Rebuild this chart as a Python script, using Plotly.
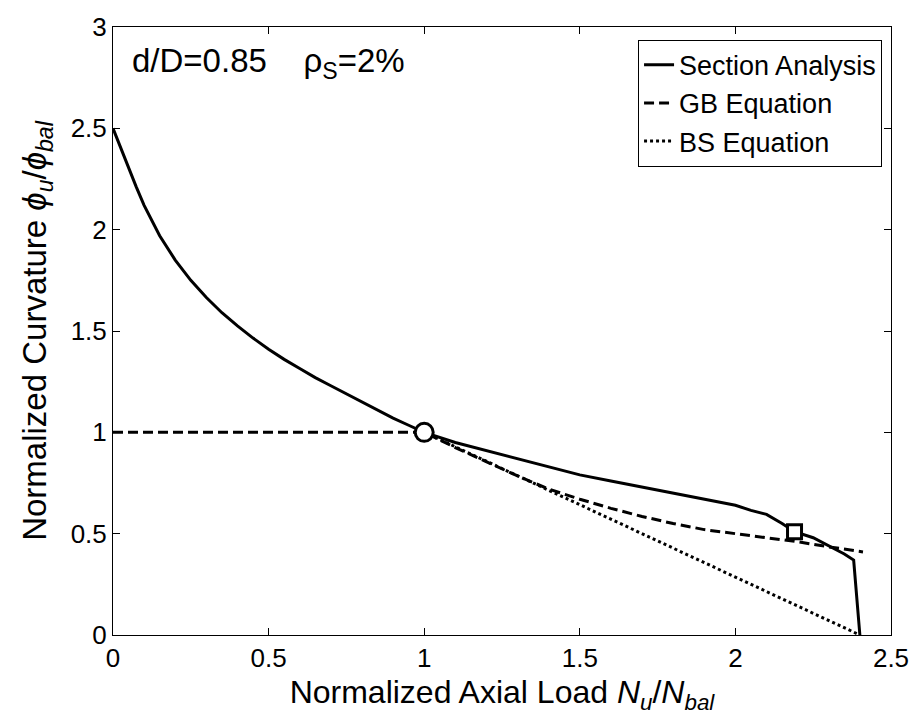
import plotly.graph_objects as go

# Section analysis curve
sec_x = [0, 0.025, 0.05, 0.075, 0.1, 0.15, 0.2, 0.25, 0.3, 0.35, 0.4, 0.45, 0.5,
         0.55, 0.6, 0.65, 0.7, 0.75, 0.8, 0.85, 0.9, 0.95, 1.0,
         1.1, 1.2, 1.3, 1.4, 1.5, 1.6, 1.7, 1.8, 1.9, 2.0, 2.05, 2.1, 2.15, 2.19,
         2.25, 2.3, 2.35, 2.38, 2.4]
sec_y = [2.5, 2.40, 2.30, 2.21, 2.12, 1.97, 1.85, 1.75, 1.665, 1.59, 1.525, 1.465, 1.41,
         1.36, 1.315, 1.27, 1.23, 1.19, 1.15, 1.11, 1.07, 1.035, 1.0,
         0.95, 0.91, 0.87, 0.83, 0.79, 0.76, 0.73, 0.70, 0.67, 0.64, 0.615, 0.595, 0.55, 0.51,
         0.48, 0.44, 0.40, 0.37, 0.0]

# GB equation
gb_x = [0, 1.0, 1.1, 1.2, 1.3, 1.4, 1.5, 1.6, 1.7, 1.8, 1.9, 2.0, 2.1, 2.2, 2.3, 2.41]
gb_y = [1.0, 1.0, 0.925, 0.855, 0.785, 0.72, 0.67, 0.625, 0.585, 0.55, 0.52, 0.50, 0.48, 0.46, 0.435, 0.41]

# BS equation
bs_x = [1.0, 2.4]
bs_y = [1.0, 0.0]

# Markers
circ_x, circ_y = [1.0], [1.0]
sq_x, sq_y = [2.19], [0.51]

FONT = "Liberation Sans, Arial, sans-serif"
LW = 3

fig = go.Figure()
fig.add_trace(go.Scatter(x=sec_x, y=sec_y, mode="lines", name="Section Analysis",
                         line=dict(color="black", width=LW)))
fig.add_trace(go.Scatter(x=gb_x, y=gb_y, mode="lines", name="GB Equation",
                         line=dict(color="black", width=LW, dash="10px,5px")))
fig.add_trace(go.Scatter(x=bs_x, y=bs_y, mode="lines", name="BS Equation",
                         line=dict(color="black", width=LW, dash="3px,3px")))
fig.add_trace(go.Scatter(x=circ_x, y=circ_y, mode="markers", showlegend=False,
                         marker=dict(symbol="circle", size=18, color="white",
                                     line=dict(color="black", width=LW))))
fig.add_trace(go.Scatter(x=sq_x, y=sq_y, mode="markers", showlegend=False,
                         marker=dict(symbol="square", size=14, color="white",
                                     line=dict(color="black", width=LW))))

axis_common = dict(showline=True, linecolor="black", linewidth=1, mirror="ticks",
                   ticks="inside", ticklen=7, tickcolor="black", tickwidth=1,
                   showgrid=False, zeroline=False,
                   tickfont=dict(family=FONT, size=26, color="black"))

fig.update_xaxes(range=[0, 2.5], tickvals=[0, 0.5, 1, 1.5, 2, 2.5],
                 ticktext=["0", "0.5", "1", "1.5", "2", "2.5"],
                 title=dict(text="Normalized Axial Load <i>N</i><sub><i>u</i></sub>/<i>N</i><sub><i>bal</i></sub>",
                            font=dict(family=FONT, size=32, color="black"), standoff=8),
                 **axis_common)
fig.update_yaxes(range=[0, 3], tickvals=[0, 0.5, 1, 1.5, 2, 2.5, 3],
                 ticktext=["0", "0.5", "1", "1.5", "2", "2.5", "3"],
                 title=dict(text="Normalized Curvature <i>ϕ</i><sub><i>u</i></sub>/<i>ϕ</i><sub><i>bal</i></sub>",
                            font=dict(family=FONT, size=33, color="black"), standoff=14),
                 **axis_common)

fig.add_annotation(x=0.0217, y=0.94, xref="paper", yref="paper", xanchor="left", yanchor="middle",
                   text="d/D=0.85&nbsp;&nbsp;&nbsp;&nbsp;ρ<sub>S</sub>=2%", showarrow=False,
                   font=dict(family=FONT, size=33, color="black"))

fig.update_layout(
    width=921, height=716,
    margin=dict(l=113, r=25, t=19, b=79),
    paper_bgcolor="white", plot_bgcolor="white",
    showlegend=True,
    legend=dict(x=0.9885, y=0.979, xanchor="right", yanchor="top",
                bgcolor="white", bordercolor="black", borderwidth=1,
                font=dict(family=FONT, size=27, color="black"),
                tracegroupgap=0, itemwidth=30),
)

fig.write_html("out.html")
